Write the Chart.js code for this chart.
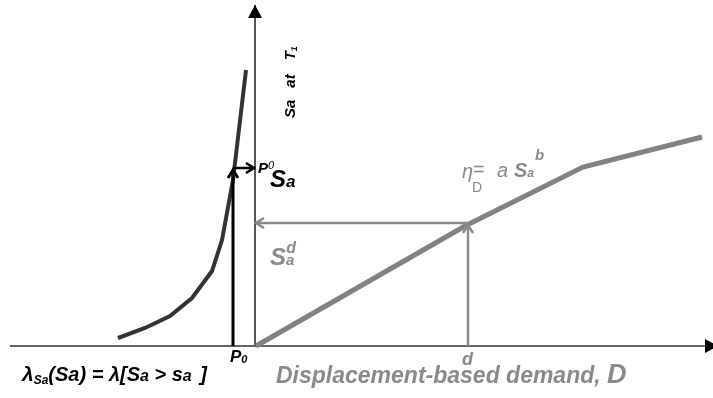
<!DOCTYPE html>
<html>
<head>
<meta charset="utf-8">
<script src="https://cdn.jsdelivr.net/npm/chart.js@4"></script>
<style>
  html, body { margin: 0; padding: 0; background: #fff; }
  #wrap { width: 713px; height: 398px; position: relative; }
</style>
</head>
<body>
<div id="wrap"><canvas id="chart"></canvas></div>
<script>
// Schematic units: origin where the two axes cross, 1 unit ~ 10 px
const xRange = [-25.6, 45.7];
const yRange = [-5.2, 34.6];

// hazard curve lambda_Sa(Sa), left of the Sa axis
const hazardX = [-13.8, -11.1, -8.6, -6.4, -4.4, -3.4, -2.3, -1.0];
const hazardY = [0.8, 1.8, 3.0, 4.8, 7.5, 10.6, 16.6, 27.6];

// demand curve eta_D = a Sa^b
const demandX = [0, 20.9, 32.7, 44.6];
const demandY = [0, 12.0, 17.9, 20.9];

// axes
const axisHX = [-24.6, 46.2], axisHY = [0, 0];
const axisVX = [-0.1, -0.1], axisVY = [0, 34.1];

// arrows: P0 up then right to axis, d up to curve then left to axis
const p0UpX = [-2.3, -2.3], p0UpY = [0, 17.6];
const p0RightX = [-2.3, -0.2], p0RightY = [17.8, 17.8];
const dUpX = [21.2, 21.2], dUpY = [0, 12.1];
const dLeftX = [21.2, 0.0], dLeftY = [12.3, 12.3];

const pts = (xs, ys) => xs.map((x, i) => ({ x: x, y: ys[i] }));

const FONT = '"Liberation Sans", Arial, sans-serif';
const GREY = '#8a8a8a';

function lineSet(xs, ys, color, width, arrow, headColor) {
    return {
        data: pts(xs, ys),
        showLine: true,
        borderColor: color,
        borderWidth: width,
        pointRadius: 0,
        tension: 0,
        borderCapStyle: 'butt',
        borderJoinStyle: 'miter',
        arrow: arrow || null,
        headColor: headColor || color
    };
}

// text annotations: anchor in schematic units, runs drawn left to right
const labels = [
    { x: -23.4, y: -3.5, color: '#000', runs: [
        { t: 'λ', s: 21 }, { t: 'Sa', s: 12, dy: 3 }, { t: '(Sa) = λ[S', s: 20 },
        { t: 'a', s: 16 }, { t: ' > s', s: 20 }, { t: 'a', s: 16 }, { t: ' ]', s: 20, dx: 3 }] },
    { x: -2.6, y: -1.6, color: '#000', runs: [{ t: 'P', s: 17 }, { t: '0', s: 11, dy: 1 }] },
    { x: 2.0, y: -3.7, color: GREY, runs: [{ t: 'Displacement-based demand, ', s: 23 }, { t: 'D', s: 27 }] },
    { x: 20.6, y: -1.9, color: GREY, runs: [{ t: 'd', s: 18 }] },
    { x: 3.9, y: 22.8, color: '#000', rot: -Math.PI / 2, runs: [
        { t: 'Sa', s: 15 }, { t: 'at', s: 15, dx: 12 }, { t: 'T', s: 15, dx: 14 }, { t: '1', s: 9, dy: 2 }] },
    { x: 0.2, y: 17.3, color: '#000', runs: [{ t: 'P', s: 15 }, { t: '0', s: 11, w: 'normal', dy: -4 }] },
    { x: 1.4, y: 15.9, color: '#000', runs: [{ t: 'S', s: 24 }, { t: 'a', s: 17 }] },
    { x: 1.4, y: 8.1, color: GREY, runs: [{ t: 'S', s: 24 }, { t: 'a', s: 15 }, { t: 'd', s: 16, dx: -8, dy: -12 }] },
    { x: 20.6, y: 16.8, color: GREY, runs: [{ t: 'η', s: 20, w: 'normal' }] },
    { x: 21.6, y: 15.4, color: GREY, runs: [{ t: 'D', s: 14, w: 'normal', st: 'normal' }] },
    { x: 21.7, y: 17.0, color: GREY, runs: [{ t: '=', s: 20, w: 'normal', st: 'normal' }] },
    { x: 24.1, y: 16.9, color: GREY, runs: [{ t: 'a', s: 20, w: 'normal' }] },
    { x: 25.8, y: 16.9, color: GREY, runs: [{ t: 'S', s: 20 }, { t: 'a', s: 12 }] },
    { x: 27.9, y: 18.6, color: GREY, runs: [{ t: 'b', s: 15 }] }
];

const arrowPlugin = {
    id: 'arrowheads',
    afterDatasetsDraw(chart) {
        const ctx = chart.ctx;
        const xs = chart.scales.x, ys = chart.scales.y;
        chart.data.datasets.forEach(ds => {
            if (!ds.arrow) return;
            const n = ds.data.length;
            const a = ds.data[n - 2], b = ds.data[n - 1];
            const x1 = xs.getPixelForValue(a.x), y1 = ys.getPixelForValue(a.y);
            const x2 = xs.getPixelForValue(b.x), y2 = ys.getPixelForValue(b.y);
            const ang = Math.atan2(y2 - y1, x2 - x1);
            ctx.save();
            ctx.translate(x2, y2);
            ctx.rotate(ang);
            ctx.strokeStyle = ds.headColor;
            ctx.fillStyle = ds.headColor;
            if (ds.arrow === 'filled') {
                ctx.beginPath();
                ctx.moveTo(0, 0);
                ctx.lineTo(-13, -7);
                ctx.lineTo(-13, 7);
                ctx.closePath();
                ctx.fill();
            } else {
                ctx.lineWidth = ds.borderWidth;
                ctx.beginPath();
                ctx.moveTo(-8, -5);
                ctx.lineTo(0, 0);
                ctx.lineTo(-8, 5);
                ctx.stroke();
            }
            ctx.restore();
        });
    }
};

const labelPlugin = {
    id: 'labels',
    afterDraw(chart) {
        const ctx = chart.ctx;
        const xs = chart.scales.x, ys = chart.scales.y;
        labels.forEach(l => {
            ctx.save();
            ctx.translate(xs.getPixelForValue(l.x), ys.getPixelForValue(l.y));
            if (l.rot) ctx.rotate(l.rot);
            ctx.fillStyle = l.color;
            ctx.textBaseline = 'alphabetic';
            let cx = 0;
            l.runs.forEach(r => {
                ctx.font = (r.st || 'italic') + ' ' + (r.w || 'bold') + ' ' + r.s + 'px ' + FONT;
                cx += r.dx || 0;
                ctx.fillText(r.t, cx, r.dy || 0);
                cx += ctx.measureText(r.t).width;
            });
            ctx.restore();
        });
    }
};

new Chart(document.getElementById('chart'), {
    type: 'scatter',
    data: {
        datasets: [
            lineSet(p0RightX, p0RightY, '#000', 2.5, 'open'),
            lineSet(p0UpX, p0UpY, '#000', 3, 'open'),
            lineSet(dLeftX, dLeftY, '#8a8a8a', 2.5, 'open'),
            lineSet(dUpX, dUpY, '#8a8a8a', 2.5, 'open'),
            lineSet(hazardX, hazardY, '#333', 4),
            lineSet(demandX, demandY, '#828282', 5),
            lineSet(axisVX, axisVY, '#555', 2, 'filled', '#000'),
            lineSet(axisHX, axisHY, '#333', 1.5, 'filled', '#000')
        ]
    },
    options: {
        responsive: true,
        maintainAspectRatio: false,
        animation: false,
        layout: { padding: 0 },
        plugins: { legend: { display: false }, tooltip: { enabled: false } },
        scales: {
            x: { type: 'linear', display: false, min: xRange[0], max: xRange[1] },
            y: { type: 'linear', display: false, min: yRange[0], max: yRange[1] }
        }
    },
    plugins: [arrowPlugin, labelPlugin]
});
</script>
</body>
</html>
